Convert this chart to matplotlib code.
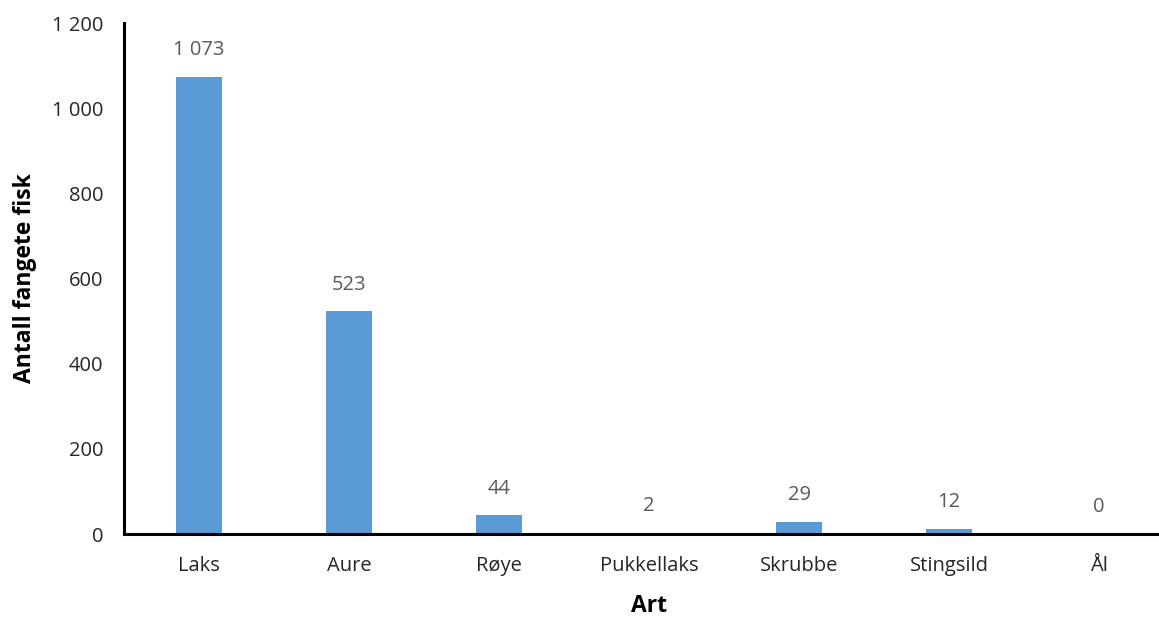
import matplotlib.pyplot as plt
import numpy as np
from matplotlib.ticker import FuncFormatter

plt.rcParams['font.family'] = ['Open Sans', 'DejaVu Sans']

species = ["Laks", "Aure", "Røye", "Pukkellaks", "Skrubbe", "Stingsild", "Ål"]
counts = [1073, 523, 44, 2, 29, 12, 0]
yticks = [0, 200, 400, 600, 800, 1000, 1200]


def fmt(v):
    return f"{int(v):,}".replace(",", " ")


fig = plt.figure(figsize=(11.59, 6.17), dpi=100)
ax = fig.add_axes([0.107, 0.1345, 0.906, 0.8282])

x = np.arange(len(species))
bars = ax.bar(x, counts, width=0.31, color="#5B9BD5", zorder=2)

# data labels above bars
for xi, v in zip(x, counts):
    ax.annotate(fmt(v), (xi, v), xytext=(0, 12), textcoords="offset points",
                ha="center", va="bottom", fontsize=14.5, color="#595959")

ax.set_xlim(-0.5, len(species) - 0.5)
ax.set_ylim(0, 1200)
ax.set_yticks(yticks)
ax.yaxis.set_major_formatter(FuncFormatter(lambda v, p: fmt(v)))
ax.set_xticks(x)
ax.set_xticklabels(species)
ax.tick_params(axis='both', length=0, labelsize=14.5, labelcolor="#262626")
ax.tick_params(axis='x', pad=16)
ax.tick_params(axis='y', pad=15)

for s in ["top", "right"]:
    ax.spines[s].set_visible(False)
for s in ["left", "bottom"]:
    ax.spines[s].set_linewidth(2.2)
    ax.spines[s].set_color("black")

ax.set_xlabel("Art", fontsize=16.5, fontweight="bold")
ax.set_ylabel("Antall fangete fisk", fontsize=16.5, fontweight="bold")
ax.xaxis.set_label_coords(0.5, -0.118)
ax.yaxis.set_label_coords(-0.083, 0.5)

fig.savefig("out.png", dpi=100)
